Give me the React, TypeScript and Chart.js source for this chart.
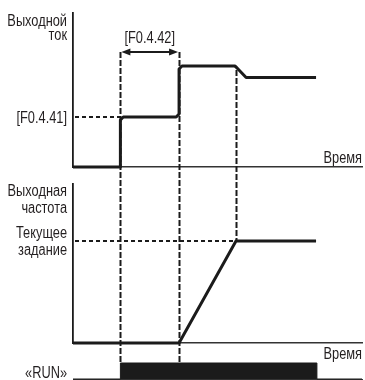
import React, { useEffect, useRef } from "react";
import { Chart, registerables } from "chart.js";

Chart.register(...registerables);

// ---- data ----
// time axis (arbitrary units)
const timeMin = 0;
const timeMax = 10;
const runStart = 1.64;      // «RUN» command
const limitEnd = 3.67;      // end of [F0.4.42] interval
const setReached = 5.64;    // frequency reaches current setpoint

// output current (units where [F0.4.41] = 100)
const currentTimes = [0, 1.64, 1.64, 1.74, 3.57, 3.67, 3.67, 3.77, 5.6, 5.66, 5.99, 8.41];
const currentValues = [0, 0, 94, 100, 100, 106, 196, 202, 202, 199, 179, 179];
const currentMax = 308;
const currentLimit = 100;   // [F0.4.41]
const arrowLevel = 230;

// output frequency (Hz)
const freqTimes = [0, 3.67, 5.64, 8.41];
const freqValues = [0, 0, 50, 50];
const freqMax = 78;
const freqSetpoint = 50;

// RUN signal
const runTimes = [0, 1.64, 8.44, 10];
const runValues = [0, 1, 0, 0];

// labels
const currentTitle = ["Выходной", "ток"];
const freqTitle = ["Выходная", "частота"];
const setpointLabel = ["Текущее", "задание"];
const limitLabel = "[F0.4.41]";
const timeLabel = "[F0.4.42]";
const axisTimeLabel = "Время";
const runLabel = "«RUN»";

const W = 365;
const H = 380;
const INK = "#1b1b1b";
const FONT = "16px 'Liberation Sans', Arial, sans-serif";
const CONDENSE = 0.8;

function xScale(showBorder: boolean, bw = 1.5) {
  return {
    type: "linear" as const,
    min: timeMin,
    max: timeMax,
    grid: { display: false, drawTicks: false },
    ticks: { display: false },
    border: { display: showBorder, color: "#333", width: bw },
  };
}
function yScale(min: number, max: number, showBorder: boolean) {
  return {
    type: "linear" as const,
    min,
    max,
    grid: { display: false, drawTicks: false },
    ticks: { display: false },
    border: { display: showBorder, color: INK, width: 1.8 },
  };
}
function baseOptions(padding: any, scales: any) {
  return {
    responsive: false,
    maintainAspectRatio: false,
    animation: false as const,
    devicePixelRatio: 1,
    events: [] as any[],
    layout: { padding },
    plugins: { legend: { display: false }, tooltip: { enabled: false } },
    scales,
  };
}
function pts(ts: number[], vs: number[]) {
  return ts.map((t, i) => ({ x: t, y: vs[i] }));
}
function text(ctx: CanvasRenderingContext2D, s: string, x: number, y: number) {
  ctx.save();
  ctx.translate(x, y);
  ctx.scale(CONDENSE, 1);
  ctx.fillText(s, 0, 0);
  ctx.restore();
}

export default function App() {
  const topRef = useRef<HTMLCanvasElement>(null);
  const freqRef = useRef<HTMLCanvasElement>(null);
  const runRef = useRef<HTMLCanvasElement>(null);

  useEffect(() => {
    const topChart = new Chart(topRef.current!, {
      type: "line",
      data: {
        datasets: [
          {
            data: pts(currentTimes, currentValues),
            borderColor: INK,
            borderWidth: 3,
            pointRadius: 0,
            tension: 0,
            clip: false as any,
            borderJoinStyle: "round",
          },
        ],
      },
      options: baseOptions(
        { left: 73, right: 3, top: 13, bottom: H - 167 },
        { x: xScale(true), y: yScale(0, currentMax, true) }
      ) as any,
    });

    const freqChart = new Chart(freqRef.current!, {
      type: "line",
      data: {
        datasets: [
          {
            data: pts(freqTimes, freqValues),
            borderColor: INK,
            borderWidth: 3,
            pointRadius: 0,
            tension: 0,
            clip: false as any,
          },
        ],
      },
      options: baseOptions(
        { left: 73, right: 3, top: 184, bottom: H - 343 },
        { x: xScale(true), y: yScale(0, freqMax, true) }
      ) as any,
    });

    const overlay = {
      id: "overlay",
      afterDraw(chart: any) {
        const ctx = chart.ctx as CanvasRenderingContext2D;
        const tx = topChart.scales.x;
        const ty = topChart.scales.y;
        const fy = freqChart.scales.y;
        const ry = chart.scales.y;
        const tA = topChart.chartArea;
        const fA = freqChart.chartArea;
        const rA = chart.chartArea;
        ctx.save();
        ctx.strokeStyle = INK;
        ctx.fillStyle = INK;

        // horizontal dashed: [F0.4.41]
        ctx.lineWidth = 2;
        ctx.setLineDash([4, 3]);
        const yLim = ty.getPixelForValue(currentLimit);
        ctx.beginPath();
        ctx.moveTo(tA.left + 2, yLim);
        ctx.lineTo(tx.getPixelForValue(runStart), yLim);
        ctx.stroke();
        // horizontal dashed: setpoint
        const ySet = fy.getPixelForValue(freqSetpoint);
        ctx.beginPath();
        ctx.moveTo(fA.left + 2, ySet);
        ctx.lineTo(tx.getPixelForValue(setReached), ySet);
        ctx.stroke();

        // vertical dashed lines
        ctx.setLineDash([6, 2]);
        const yArrow = ty.getPixelForValue(arrowLevel);
        const yRunTop = ry.getPixelForValue(1);
        [runStart, limitEnd].forEach((t) => {
          const x = Math.round(tx.getPixelForValue(t)) + 0.5;
          ctx.beginPath();
          ctx.moveTo(x, yArrow);
          ctx.lineTo(x, yRunTop);
          ctx.stroke();
        });
        const xs = Math.round(tx.getPixelForValue(setReached)) + 0.5;
        ctx.beginPath();
        ctx.moveTo(xs, ty.getPixelForValue(currentValues[8]) + 4);
        ctx.lineTo(xs, ySet);
        ctx.stroke();

        // double arrow
        ctx.setLineDash([]);
        const x1 = tx.getPixelForValue(runStart) + 1;
        const x2 = tx.getPixelForValue(limitEnd) - 1;
        ctx.lineWidth = 2;
        ctx.beginPath();
        ctx.moveTo(x1 + 6, yArrow);
        ctx.lineTo(x2 - 6, yArrow);
        ctx.stroke();
        ctx.beginPath();
        ctx.moveTo(x1, yArrow);
        ctx.lineTo(x1 + 9, yArrow - 3.5);
        ctx.lineTo(x1 + 9, yArrow + 3.5);
        ctx.closePath();
        ctx.fill();
        ctx.beginPath();
        ctx.moveTo(x2, yArrow);
        ctx.lineTo(x2 - 9, yArrow - 3.5);
        ctx.lineTo(x2 - 9, yArrow + 3.5);
        ctx.closePath();
        ctx.fill();

        // texts
        ctx.font = FONT;
        ctx.fillStyle = "#231f20";
        ctx.textBaseline = "alphabetic";
        ctx.textAlign = "right";
        const lx = tA.left - 6;
        text(ctx, currentTitle[0], lx, tA.top + 12.5);
        text(ctx, currentTitle[1], lx, tA.top + 27);
        text(ctx, limitLabel, lx, yLim + 6);
        text(ctx, freqTitle[0], lx, fA.top + 12);
        text(ctx, freqTitle[1], lx, fA.top + 29);
        text(ctx, setpointLabel[0], lx, ySet - 3);
        text(ctx, setpointLabel[1], lx, ySet + 14);
        text(ctx, runLabel, lx, rA.bottom - 1);
        text(ctx, axisTimeLabel, tA.right, tA.bottom - 4);
        text(ctx, axisTimeLabel, fA.right, fA.bottom + 16);
        ctx.textAlign = "center";
        text(ctx, timeLabel, (x1 + x2) / 2, yArrow - 9);
        ctx.restore();
      },
    };

    const runChart = new Chart(runRef.current!, {
      type: "line",
      data: {
        datasets: [
          {
            data: pts(runTimes, runValues),
            borderColor: INK,
            backgroundColor: INK,
            borderWidth: 1,
            pointRadius: 0,
            stepped: "before",
            fill: "origin",
            clip: false as any,
          },
        ],
      },
      options: baseOptions(
        { left: 73, right: 3, top: 363, bottom: H - 379 },
        { x: xScale(true, 1), y: yScale(0, 1, false) }
      ) as any,
      plugins: [overlay],
    });

    return () => {
      runChart.destroy();
      freqChart.destroy();
      topChart.destroy();
    };
  }, []);

  const cs: React.CSSProperties = { position: "absolute", left: 0, top: 0, width: W, height: H };
  return (
    <div style={{ position: "absolute", left: 0, top: 0, width: W, height: H, background: "#fff" }}>
      <canvas ref={topRef} width={W} height={H} style={cs} />
      <canvas ref={freqRef} width={W} height={H} style={cs} />
      <canvas ref={runRef} width={W} height={H} style={cs} />
    </div>
  );
}
